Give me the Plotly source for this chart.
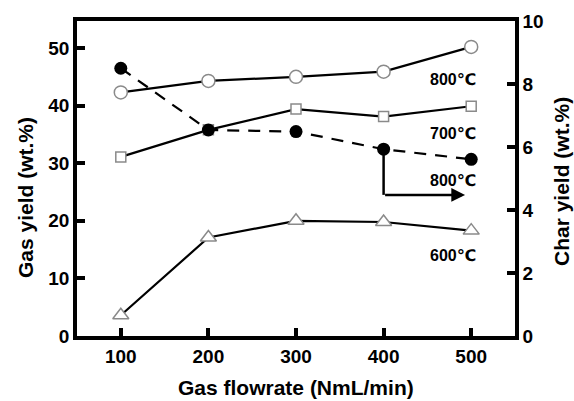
import plotly.graph_objects as go

flowrate = [100, 200, 300, 400, 500]
gas_800 = [42.3, 44.3, 45.0, 45.9, 50.2]
gas_700 = [31.1, 35.8, 39.4, 38.1, 39.9]
gas_600 = [3.6, 17.1, 20.0, 19.8, 18.3]
char_800 = [8.5, 6.54, 6.49, 5.93, 5.61]

arrow_x = [400, 400, 493]
arrow_y = [5.93, 4.48, 4.48]

FONT = "Arial, Liberation Sans, DejaVu Sans, sans-serif"
open_gray = "#8a8a8a"

fig = go.Figure()
fig.add_trace(go.Scatter(x=flowrate, y=gas_800, mode="lines+markers",
                         line=dict(color="black", width=2.2),
                         marker=dict(symbol="circle", size=13, color="white",
                                     line=dict(color=open_gray, width=1.5))))
fig.add_trace(go.Scatter(x=flowrate, y=gas_700, mode="lines+markers",
                         line=dict(color="black", width=2.2),
                         marker=dict(symbol="square", size=10, color="white",
                                     line=dict(color=open_gray, width=1.5))))
fig.add_trace(go.Scatter(x=flowrate, y=gas_600, mode="lines+markers",
                         line=dict(color="black", width=2.2),
                         marker=dict(symbol="triangle-up", size=14, color="white",
                                     line=dict(color=open_gray, width=1.5))))
fig.add_trace(go.Scatter(x=flowrate, y=char_800, mode="lines+markers", yaxis="y2",
                         line=dict(color="black", width=2.2, dash="12px,9px"),
                         marker=dict(symbol="circle", size=13, color="black")))
fig.add_trace(go.Scatter(x=arrow_x[:2], y=arrow_y[:2], mode="lines", yaxis="y2",
                         line=dict(color="black", width=2.5)))

fig.add_annotation(x=arrow_x[2], y=arrow_y[2], ax=arrow_x[1], ay=arrow_y[1],
                   xref="x", yref="y2", axref="x", ayref="y2",
                   showarrow=True, arrowhead=2, arrowsize=1.1, arrowwidth=2.5,
                   arrowcolor="black", text="")

labels = [("800℃", 453, 79), ("700℃", 453, 133), ("800℃", 453, 180), ("600℃", 453, 255)]
for t, px, py in labels:
    fig.add_annotation(text="<b>" + t + "</b>", xref="paper", yref="paper",
                       x=(px - 77) / (515 - 77), y=(336 - py) / (336 - 21),
                       showarrow=False, font=dict(family=FONT, size=16, color="black"),
                       xanchor="center", yanchor="middle")

titles = [("Gas flowrate (NmL/min)", 296, 387, 0), ("Gas yield (wt.%)", 25, 198, -90),
          ("Char yield (wt.%)", 561, 182, -90)]
for t, px, py, ang in titles:
    fig.add_annotation(text="<b>" + t + "</b>", xref="paper", yref="paper",
                       x=(px - 77) / (515 - 77), y=(336 - py) / (336 - 21),
                       showarrow=False, textangle=ang,
                       font=dict(family=FONT, size=21, color="black"),
                       xanchor="center", yanchor="middle")

tick_font = dict(family=FONT, size=19, color="black", weight="bold")
axis_common = dict(showline=True, linecolor="black", linewidth=3.5,
                   ticks="inside", ticklen=8, tickwidth=3.5, tickcolor="black",
                   showgrid=False, zeroline=False, tickfont=tick_font)

fig.update_layout(
    width=574, height=401,
    margin=dict(l=77, r=59, t=21, b=65),
    paper_bgcolor="white", plot_bgcolor="white",
    showlegend=False,
    xaxis=dict(range=[50, 550], tickvals=flowrate, mirror=True, **axis_common),
    yaxis=dict(range=[0, 54.7], tickvals=[0, 10, 20, 30, 40, 50], **axis_common),
    yaxis2=dict(range=[0, 10], tickvals=[0, 2, 4, 6, 8, 10], overlaying="y", side="right",
                **axis_common),
)

fig.write_html("out.html")
